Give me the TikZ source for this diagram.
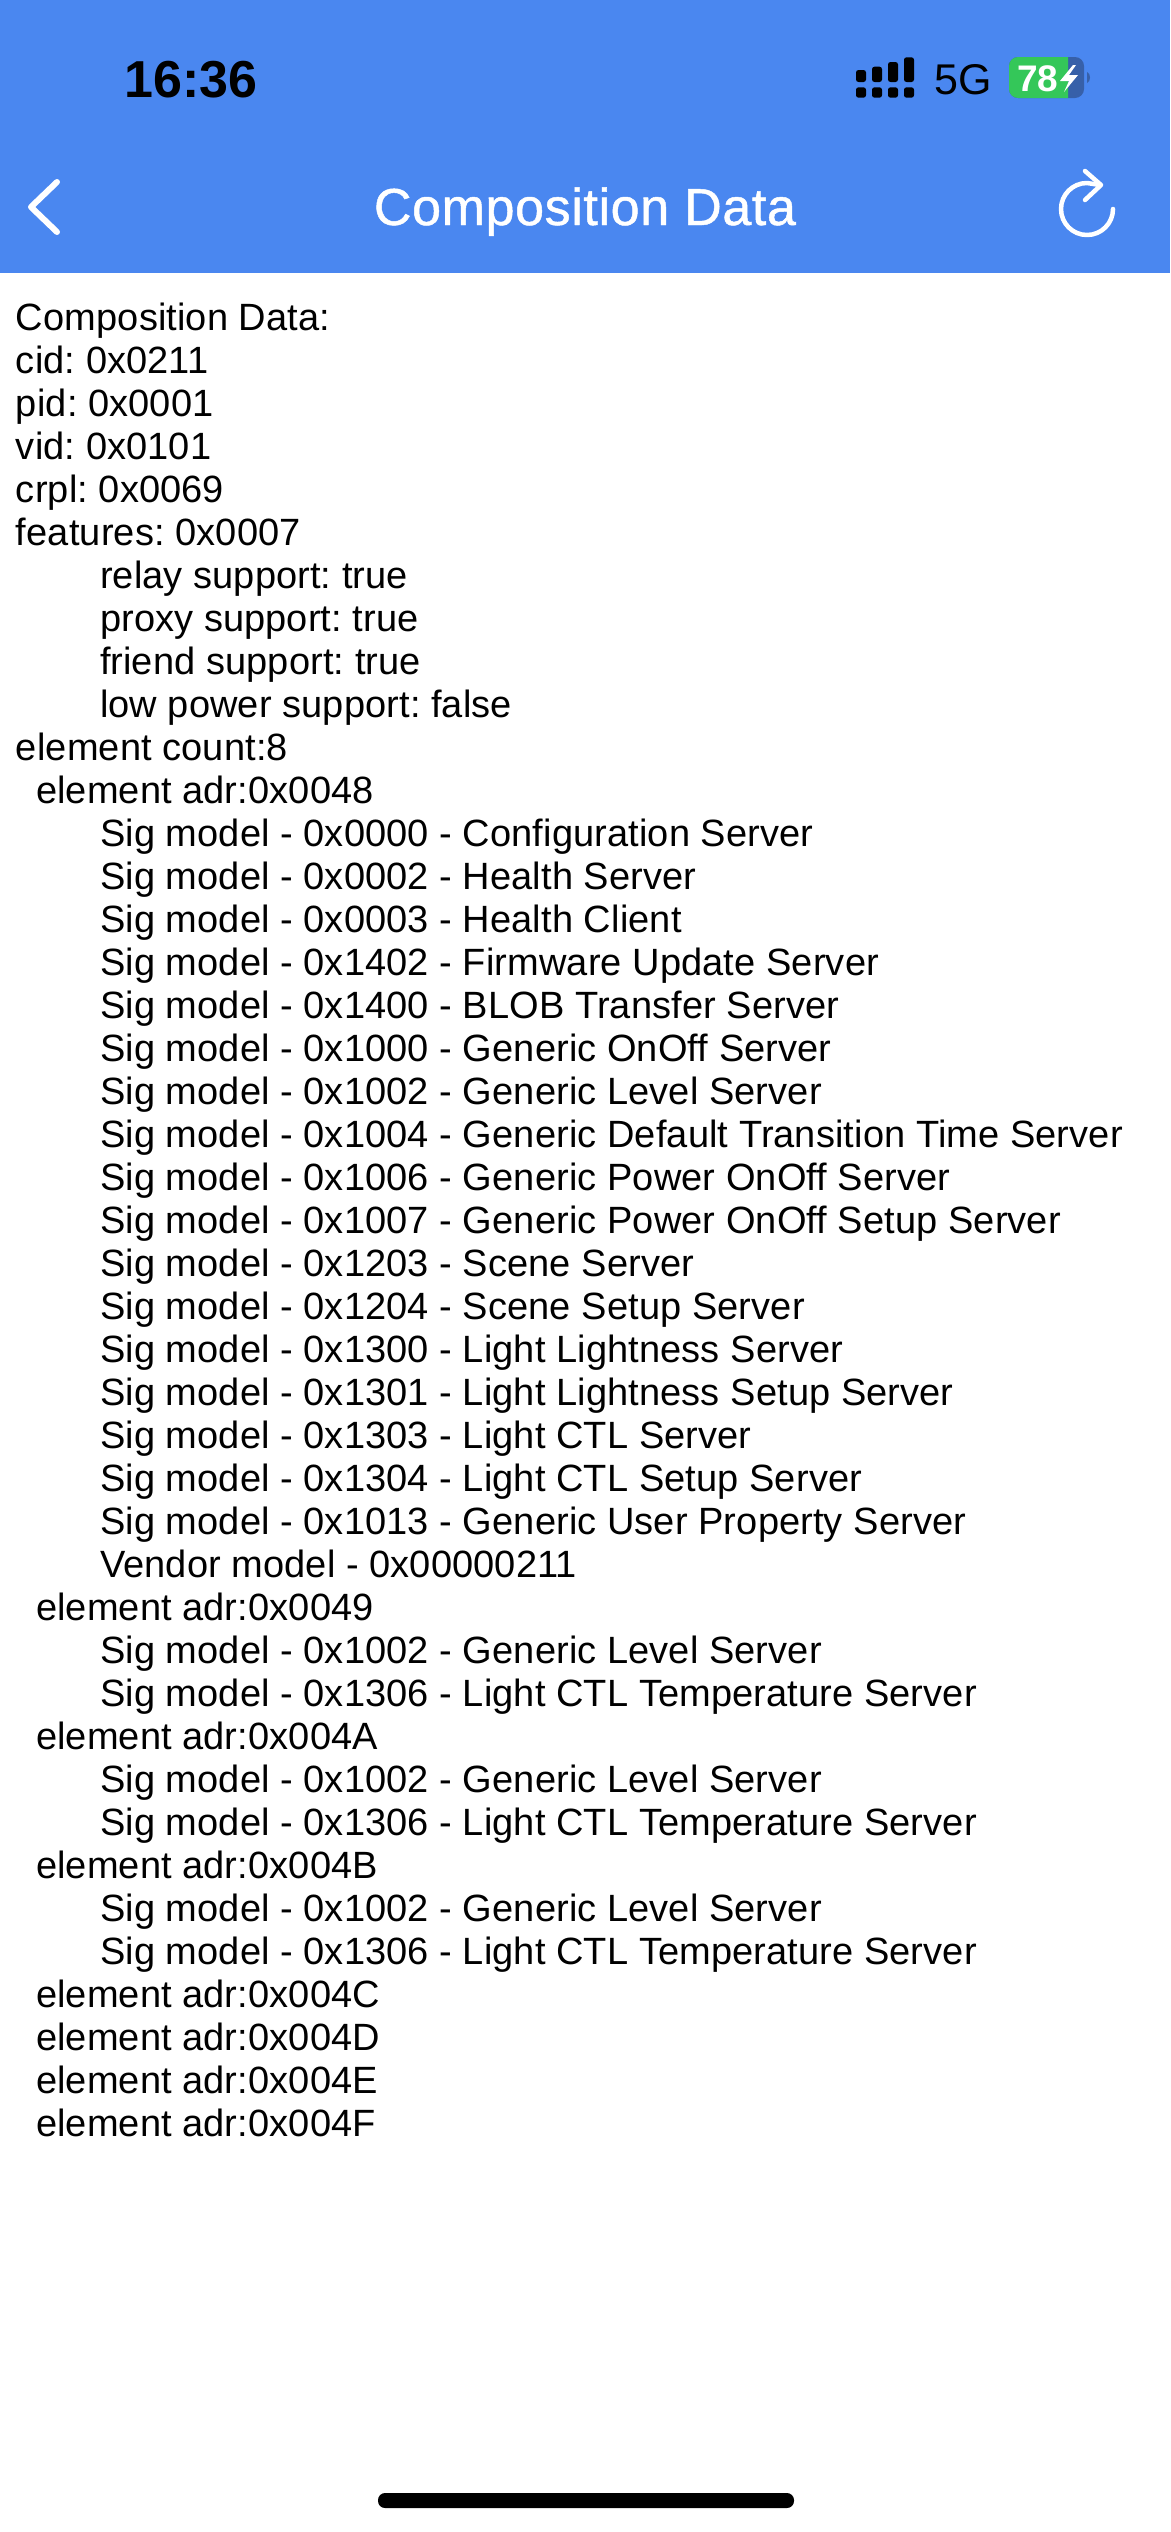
\documentclass[tikz,border=0pt]{standalone}
\usepackage{fontspec}
\setmainfont{Liberation Sans}
\newfontfamily\bodyfont[LetterSpace=0.3]{Liberation Sans}
\newfontfamily\titlefont[LetterSpace=1.2,FakeBold=0.9]{Liberation Sans}
\definecolor{hdr}{HTML}{4A87F0}
\definecolor{batt}{HTML}{34C759}
\definecolor{battd}{HTML}{3760A9}
\tikzset{
  txt/.style={anchor=base west,inner sep=0pt,outer sep=0pt,text=black,font=\bodyfont\fontsize{38}{38}\selectfont},
  ico/.style={white,line width=5pt,line cap=round,line join=round}
}
\newcommand{\tline}[3]{\node[txt] (l#1) at (#2,{330.5+43*#1}) {#3};}
\begin{document}
\frenchspacing
\begin{tikzpicture}[x=1pt,y=-1pt]
\useasboundingbox (0,0) rectangle (1170,2532);
\fill[white] (0,0) rectangle (1170,2532);
\fill[hdr] (0,0) rectangle (1170,273);
% status bar
\node[anchor=base west,inner sep=0pt,font=\fontsize{52}{52}\selectfont\bfseries,text=black] (time) at (124,97) {16:36};
\foreach \x/\t in {856/70,872/66.7,888/62,904/57.3}{
  \fill[black,rounded corners=2.5pt] (\x,\t) rectangle (\x+10,82);
  \fill[black,rounded corners=2.5pt] (\x,87.3) rectangle (\x+10,97.7);
}
\node[anchor=base west,inner sep=0pt,font=\fontsize{43}{43}\selectfont,text=black] (fiveg) at (934,94) {5G};
\fill[battd,rounded corners=9pt] (1009,57) rectangle (1084,98);
\begin{scope}
\clip (1009,50) rectangle (1068,105);
\fill[batt,rounded corners=9pt] (1009,57) rectangle (1084,98);
\end{scope}
\fill[battd] (1087,72) .. controls (1091,73) and (1091,82) .. (1087,83) -- cycle;
\node[anchor=base west,inner sep=0pt,font=\fontsize{37}{37}\selectfont\bfseries,text=white] (batn) at (1017,91) {78};
\fill[white] (1073,65) -- (1060,81) -- (1069,81) -- (1064,92) -- (1078,75) -- (1069,75) -- (1076,65) -- cycle;
% nav bar
\draw[ico,line width=6pt] (57,182) -- (31,207) -- (57,232);
\node[anchor=base,inner sep=0pt,font=\titlefont\fontsize{52}{52}\selectfont,text=white] (title) at (585,225) {Composition Data};
\draw[ico,line width=4.5pt] (1113,209) arc[start angle=0,end angle=270,radius=26] -- (1100,185);
\draw[ico,line width=4.5pt] (1085,171) -- (1101,185) -- (1085,200);
% text
\tline{0}{16}{Composition Data:}
\tline{1}{16}{cid: 0x0211}
\tline{2}{16}{pid: 0x0001}
\tline{3}{16}{vid: 0x0101}
\tline{4}{16}{crpl: 0x0069}
\tline{5}{16}{features: 0x0007}
\tline{6}{100}{relay support: true}
\tline{7}{100}{proxy support: true}
\tline{8}{100}{friend support: true}
\tline{9}{100}{low power support: false}
\tline{10}{16}{element count:8}
\tline{11}{36}{element adr:0x0048}
\tline{12}{100}{Sig model - 0x0000 - Configuration Server}
\tline{13}{100}{Sig model - 0x0002 - Health Server}
\tline{14}{100}{Sig model - 0x0003 - Health Client}
\tline{15}{100}{Sig model - 0x1402 - Firmware Update Server}
\tline{16}{100}{Sig model - 0x1400 - BLOB Transfer Server}
\tline{17}{100}{Sig model - 0x1000 - Generic OnOff Server}
\tline{18}{100}{Sig model - 0x1002 - Generic Level Server}
\tline{19}{100}{Sig model - 0x1004 - Generic Default Transition Time Server}
\tline{20}{100}{Sig model - 0x1006 - Generic Power OnOff Server}
\tline{21}{100}{Sig model - 0x1007 - Generic Power OnOff Setup Server}
\tline{22}{100}{Sig model - 0x1203 - Scene Server}
\tline{23}{100}{Sig model - 0x1204 - Scene Setup Server}
\tline{24}{100}{Sig model - 0x1300 - Light Lightness Server}
\tline{25}{100}{Sig model - 0x1301 - Light Lightness Setup Server}
\tline{26}{100}{Sig model - 0x1303 - Light CTL Server}
\tline{27}{100}{Sig model - 0x1304 - Light CTL Setup Server}
\tline{28}{100}{Sig model - 0x1013 - Generic User Property Server}
\tline{29}{100}{Vendor model - 0x00000211}
\tline{30}{36}{element adr:0x0049}
\tline{31}{100}{Sig model - 0x1002 - Generic Level Server}
\tline{32}{100}{Sig model - 0x1306 - Light CTL Temperature Server}
\tline{33}{36}{element adr:0x004A}
\tline{34}{100}{Sig model - 0x1002 - Generic Level Server}
\tline{35}{100}{Sig model - 0x1306 - Light CTL Temperature Server}
\tline{36}{36}{element adr:0x004B}
\tline{37}{100}{Sig model - 0x1002 - Generic Level Server}
\tline{38}{100}{Sig model - 0x1306 - Light CTL Temperature Server}
\tline{39}{36}{element adr:0x004C}
\tline{40}{36}{element adr:0x004D}
\tline{41}{36}{element adr:0x004E}
\tline{42}{36}{element adr:0x004F}
% home indicator
\fill[black,rounded corners=7pt] (378,2493) rectangle (794,2508);
\end{tikzpicture}
\end{document}
